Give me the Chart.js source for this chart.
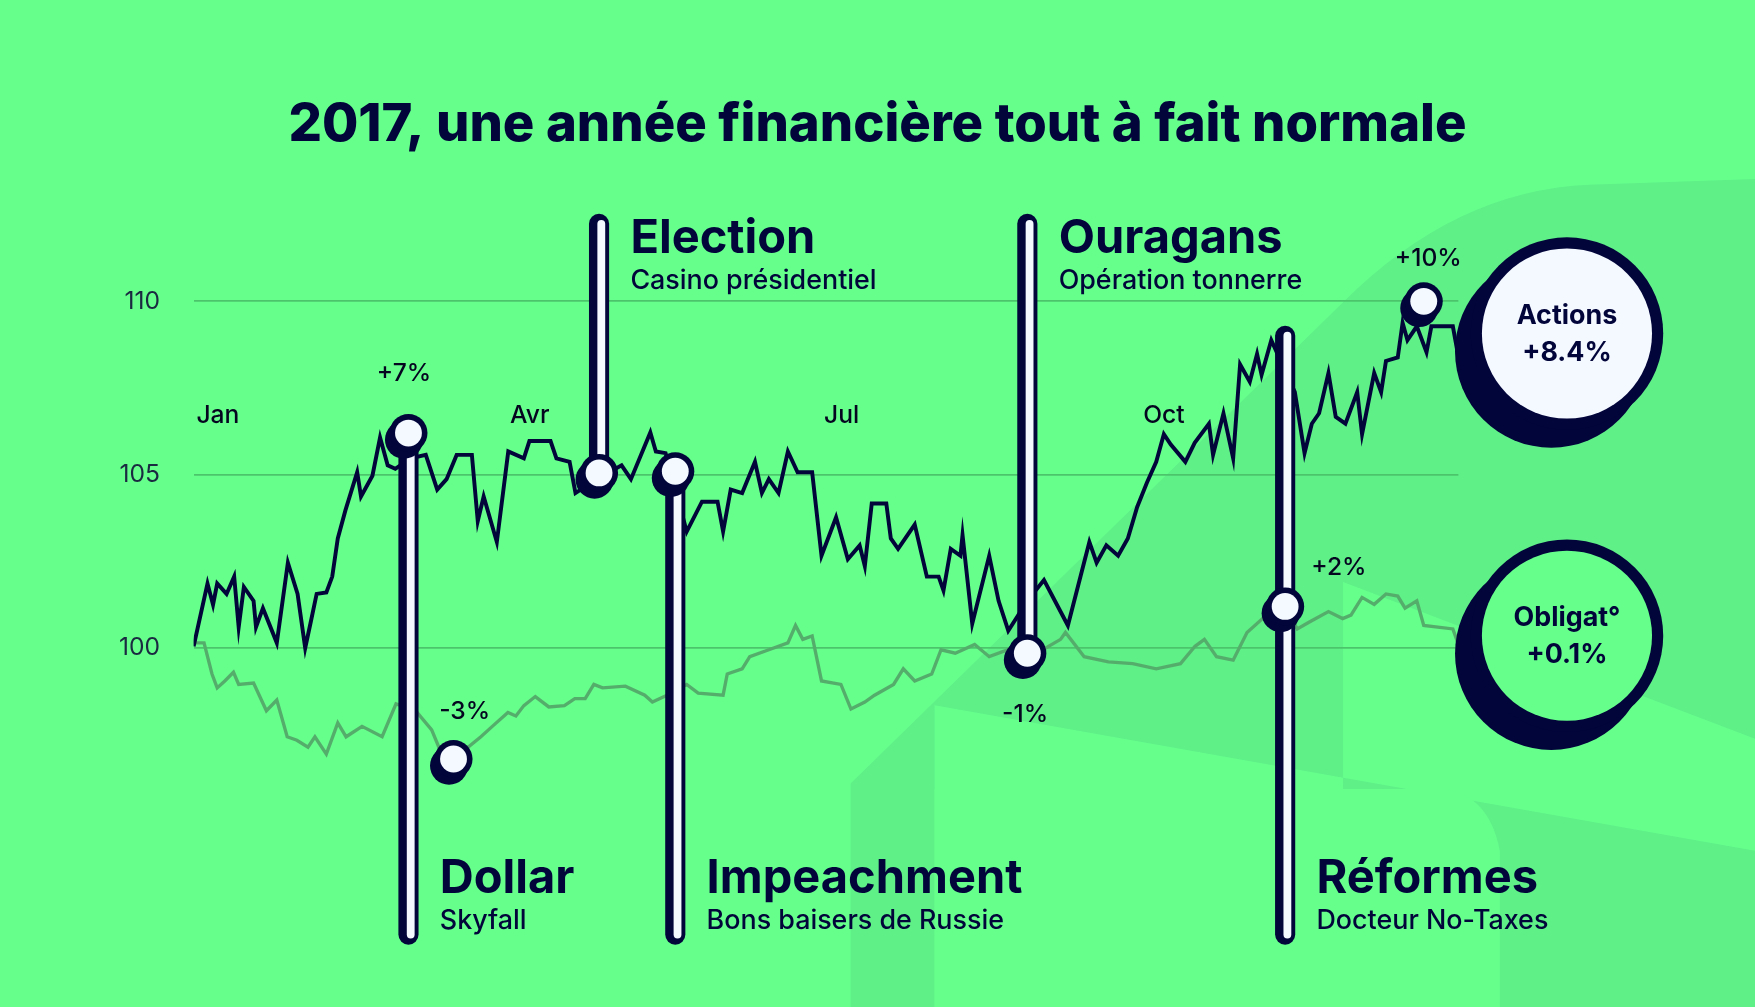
<!DOCTYPE html>
<html>
<head>
<meta charset="utf-8">
<script src="https://cdn.jsdelivr.net/npm/chart.js@4.4.1/dist/chart.umd.min.js"></script>
<style>
  html, body { margin: 0; padding: 0; background: #66ff8c; }
  #wrap { width: 1755px; height: 1007px; position: relative; }
</style>
</head>
<body>
<div id="wrap"><canvas id="chart"></canvas></div>
<script>
// day of year / value
const actionsDays = [0,4,5.6,6.8,9.5,11.7,13,14.5,17.3,18,20,24,27.2,30,32.2,33.8,35.5,38.3,40,41.6,43.8,47.2,48.3,51.6,53.8,56,58.2,62.6,67,70.3,73,75.9,80.3,82,83.7,87.5,90.8,95.3,96.9,103,104.7,108.5,110.2,116.3,123.5,126.2,131.8,133.4,136.2,142.3,146.7,151.2,152.8,155,158.3,162,164,166,168.8,171.5,174.3,178.5,181.2,185.4,188.8,192.2,193.7,195.7,199.9,201.2,203.3,208.1,211.6,215,216.4,218.5,221.3,221.9,224.7,229.6,232.3,235.1,240.6,245.4,252.3,258.5,260.6,263.4,266.8,269.6,272.3,275.1,277.8,280,282,286.2,288.9,293,294.2,297.2,300,302,304.8,306.9,308.2,311,317.8,320.6,322.7,324.8,327.5,329.6,332.4,335.8,337.2,340.7,342.7,344.1,347.5,348.9,350.3,353,355.8,357.2,363.4,365];
const actionsValues = [100.05,101.86,101.25,101.86,101.56,102.06,100.6,101.76,101.36,100.6,101.15,100.15,102.46,101.56,100,100.75,101.56,101.6,102.06,103.16,103.97,105.07,104.37,104.97,106.07,105.27,105.17,105.47,105.57,104.57,104.87,105.57,105.57,103.66,104.37,103.06,105.67,105.47,105.97,105.97,105.47,105.37,104.47,104.87,105.27,104.87,106.22,105.67,105.62,103.36,104.22,104.22,103.36,104.57,104.47,105.37,104.47,104.87,104.47,105.67,105.07,105.07,102.66,103.77,102.56,102.96,102.36,104.17,104.17,103.16,102.86,103.56,102.06,102.06,101.66,102.86,102.66,103.26,100.7,102.66,101.36,100.5,101.36,101.96,100.65,103.06,102.46,102.96,102.66,103.16,104.07,104.77,105.37,106.17,105.87,105.37,105.92,106.47,105.57,106.77,105.47,108.18,107.68,108.48,107.88,108.88,107.38,105.62,106.47,106.77,107.93,106.67,106.47,107.38,106.17,107.93,107.38,108.28,108.38,109.38,108.88,109.28,108.53,109.28,109.28,108.4];

const obligDays = [0,3,5.3,6.8,9,11.5,13,17.3,21,24,27,29.8,33,35,38.3,41.6,44,48.6,54.4,58.4,64,68.7,71.6,75,82.9,86.2,90.7,93,95.3,98.6,102.5,107,110,113,115.5,118,124.6,130.2,132.4,138,142.3,145.6,152.8,154,158.3,160.5,166,171.5,173.7,175.8,178.5,181.2,186.8,189.7,193.7,196.5,202,204.8,208.1,213,215.7,219.8,225.4,229.6,235,243.3,250.2,251.6,257,264,271,277.8,284.8,289,291.7,295.2,300,304,309.6,315,318.5,322,327.5,331.6,334,337.2,340.7,344.1,347.5,349.6,353,355,363.4,365];
const obligValues = [100.15,100.15,99.25,98.85,99.05,99.3,98.95,98.99,98.19,98.5,97.44,97.34,97.14,97.44,96.94,97.84,97.44,97.74,97.44,98.39,98.2,97.64,96.94,96.8,97.44,97.74,98.14,98.04,98.34,98.6,98.3,98.34,98.54,98.54,98.95,98.85,98.9,98.64,98.44,98.7,98.95,98.7,98.64,99.25,99.4,99.75,99.95,100.15,100.65,100.25,100.35,99.05,98.95,98.24,98.44,98.64,98.95,99.4,99.05,99.25,99.95,99.85,100.1,99.75,99.95,99.85,100.25,100.45,99.75,99.6,99.55,99.4,99.55,100.05,100.25,99.75,99.65,100.45,100.95,101.2,100.55,100.75,101.05,100.85,100.95,101.46,101.26,101.56,101.5,101.15,101.36,100.65,100.55,100.1];

const monthLabels = ['Jan', 'Avr', 'Jul', 'Oct'];
const monthDays = [7, 97, 187, 280];
const yTicks = [100, 105, 110];

// events: name, subtitle, anchor day/value
const eventNames = ['Dollar', 'Election', 'Impeachment', 'Ouragans', 'Réformes'];
const eventSubs = ['Skyfall', 'Casino présidentiel', 'Bons baisers de Russie', 'Opération tonnerre', 'Docteur No-Taxes'];
const eventDays = [62, 117, 139, 240.6, 315];
const eventValues = [106.2, 105.05, 105.1, 99.85, 101.2];

// percentage call-outs
const calloutLabels = ['+7%', '-3%', '-1%', '+2%', '+10%'];
const calloutDays = [62, 75, 240.6, 315, 355];
const calloutValues = [106.2, 96.8, 99.85, 101.2, 110];

const S = 1755 / 1568;
const NAVY = '#02053a';
const BG = '#66ff8c';
const P = v => v * S;
const font = (w, px) => `${w} ${P(px)}px Inter, "Noto Sans", sans-serif`;

function pinBar(ctx, x, y1, y2) {
    ctx.lineCap = 'round';
    ctx.strokeStyle = NAVY;
    ctx.lineWidth = P(18);
    ctx.beginPath(); ctx.moveTo(x, y1); ctx.lineTo(x, y2); ctx.stroke();
    ctx.strokeStyle = '#f4f8ff';
    ctx.lineWidth = P(7);
    ctx.beginPath(); ctx.moveTo(x + P(2), y1); ctx.lineTo(x + P(2), y2); ctx.stroke();
}

function dot(ctx, x, y) {
    ctx.fillStyle = NAVY;
    ctx.beginPath(); ctx.arc(x - P(4), y + P(6), P(17), 0, Math.PI * 2); ctx.fill();
    ctx.beginPath(); ctx.arc(x, y, P(17), 0, Math.PI * 2); ctx.fill();
    ctx.fillStyle = '#f4f8ff';
    ctx.beginPath(); ctx.arc(x, y, P(12), 0, Math.PI * 2); ctx.fill();
}

function badge(ctx, x, y, fill, l1, l2) {
    ctx.fillStyle = NAVY;
    ctx.beginPath(); ctx.arc(x - P(14), y + P(16), P(86), 0, Math.PI * 2); ctx.fill();
    ctx.beginPath(); ctx.arc(x, y, P(86), 0, Math.PI * 2); ctx.fill();
    ctx.fillStyle = fill;
    ctx.beginPath(); ctx.arc(x, y, P(76), 0, Math.PI * 2); ctx.fill();
    ctx.fillStyle = NAVY;
    ctx.textAlign = 'center';
    ctx.textBaseline = 'middle';
    ctx.font = font(700, 24);
    ctx.fillText(l1, x, y - P(16));
    ctx.fillText(l2, x, y + P(17));
}

const decor = {
    id: 'decor',
    beforeDraw(chart) {
        const ctx = chart.ctx;
        ctx.save();
        ctx.fillStyle = BG;
        ctx.fillRect(0, 0, chart.width, chart.height);
        // faint background shape
        ctx.fillStyle = '#5ff088';
        ctx.beginPath();
        ctx.moveTo(P(760), P(700));
        ctx.lineTo(P(1200), P(270));
        ctx.quadraticCurveTo(P(1300), P(170), P(1420), P(165));
        ctx.lineTo(P(1568), P(160));
        ctx.lineTo(P(1568), P(660));
        ctx.lineTo(P(1200), P(520));
        ctx.lineTo(P(1200), P(900));
        ctx.lineTo(P(1568), P(900));
        ctx.lineTo(P(1568), P(760));
        ctx.lineTo(P(835), P(630));
        ctx.lineTo(P(835), P(900));
        ctx.lineTo(P(760), P(900));
        ctx.closePath();
        ctx.fill();
        ctx.fillStyle = BG;
        ctx.beginPath();
        ctx.moveTo(P(835), P(705));
        ctx.lineTo(P(1290), P(705));
        ctx.quadraticCurveTo(P(1330), P(710), P(1340), P(760));
        ctx.lineTo(P(1340), P(900));
        ctx.lineTo(P(835), P(900));
        ctx.closePath();
        ctx.fill();
        // title
        ctx.fillStyle = NAVY;
        ctx.textAlign = 'center';
        ctx.textBaseline = 'middle';
        ctx.font = font(800, 47);
        ctx.fillText('2017, une année financière tout à fait normale', P(784), P(112));
        ctx.restore();
    },
    afterDatasetsDraw(chart) {
        const ctx = chart.ctx;
        const xs = chart.scales.x, ys = chart.scales.y;
        ctx.save();
        // month labels
        ctx.fillStyle = '#050520';
        ctx.font = font(500, 22);
        ctx.textAlign = 'center';
        ctx.textBaseline = 'middle';
        monthLabels.forEach((m, i) => ctx.fillText(m, xs.getPixelForValue(monthDays[i]), P(371)));

        // event pins
        const barEnds = [[385, 835], [200, 422], [420, 835], [200, 583], [300, 835]];
        const labelTop = [false, true, false, true, false];
        eventNames.forEach((name, i) => {
            const x = xs.getPixelForValue(eventDays[i]);
            const y = ys.getPixelForValue(eventValues[i]);
            pinBar(ctx, x, P(barEnds[i][0]), P(barEnds[i][1]));
            dot(ctx, x, y);
            const lx = x + P(28);
            const ly = labelTop[i] ? P(213) : P(785);
            ctx.fillStyle = NAVY;
            ctx.textAlign = 'left';
            ctx.font = font(700, 42);
            ctx.fillText(name, lx, ly);
            ctx.font = font(500, 24);
            ctx.fillText(eventSubs[i], lx, ly + P(38));
        });

        // call-out dots & labels
        const offs = [[-4, -53], [10, -42], [-2, 55], [48, -35], [4, -38]];
        calloutLabels.forEach((t, i) => {
            const x = xs.getPixelForValue(calloutDays[i]);
            const y = ys.getPixelForValue(calloutValues[i]);
            if (i === 1 || i === 4) dot(ctx, x, y);
            ctx.fillStyle = '#050520';
            ctx.font = font(500, 22);
            ctx.textAlign = 'center';
            ctx.fillText(t, x + P(offs[i][0]), y + P(offs[i][1]));
        });

        badge(ctx, P(1400), P(298), '#f4f8ff', 'Actions', '+8.4%');
        badge(ctx, P(1400), P(568), BG, 'Obligat°', '+0.1%');
        ctx.restore();
    }
};

new Chart(document.getElementById('chart'), {
    type: 'line',
    data: {
        datasets: [{
            label: 'Actions',
            data: actionsDays.map((d, i) => ({ x: d, y: actionsValues[i] })),
            borderColor: NAVY,
            borderWidth: P(3.5),
            pointRadius: 0,
            tension: 0
        }, {
            label: 'Obligations',
            data: obligDays.map((d, i) => ({ x: d, y: obligValues[i] })),
            borderColor: '#55ad6c',
            borderWidth: P(3),
            pointRadius: 0,
            tension: 0
        }]
    },
    options: {
        responsive: true,
        maintainAspectRatio: false,
        animation: false,
        devicePixelRatio: 1,
        layout: { padding: { left: 0, right: P(1568 - 1303), top: P(176.3), bottom: P(900 - 887.3) } },
        scales: {
            x: { type: 'linear', min: 0, max: 365, display: false },
            y: {
                min: 91.04, max: 113,
                afterFit: s => { s.width = P(173); },
                border: { display: false },
                grid: {
                    color: c => yTicks.includes(c.tick.value) ? '#4cc46c' : 'transparent',
                    lineWidth: P(1.5),
                    drawTicks: false
                },
                ticks: {
                    stepSize: 5,
                    padding: P(30),
                    color: '#1a2a40',
                    font: { family: 'Inter', size: P(22) },
                    callback: v => yTicks.includes(v) ? v : ''
                }
            }
        },
        plugins: { legend: { display: false }, tooltip: { enabled: false } }
    },
    plugins: [decor]
});
</script>
</body>
</html>
